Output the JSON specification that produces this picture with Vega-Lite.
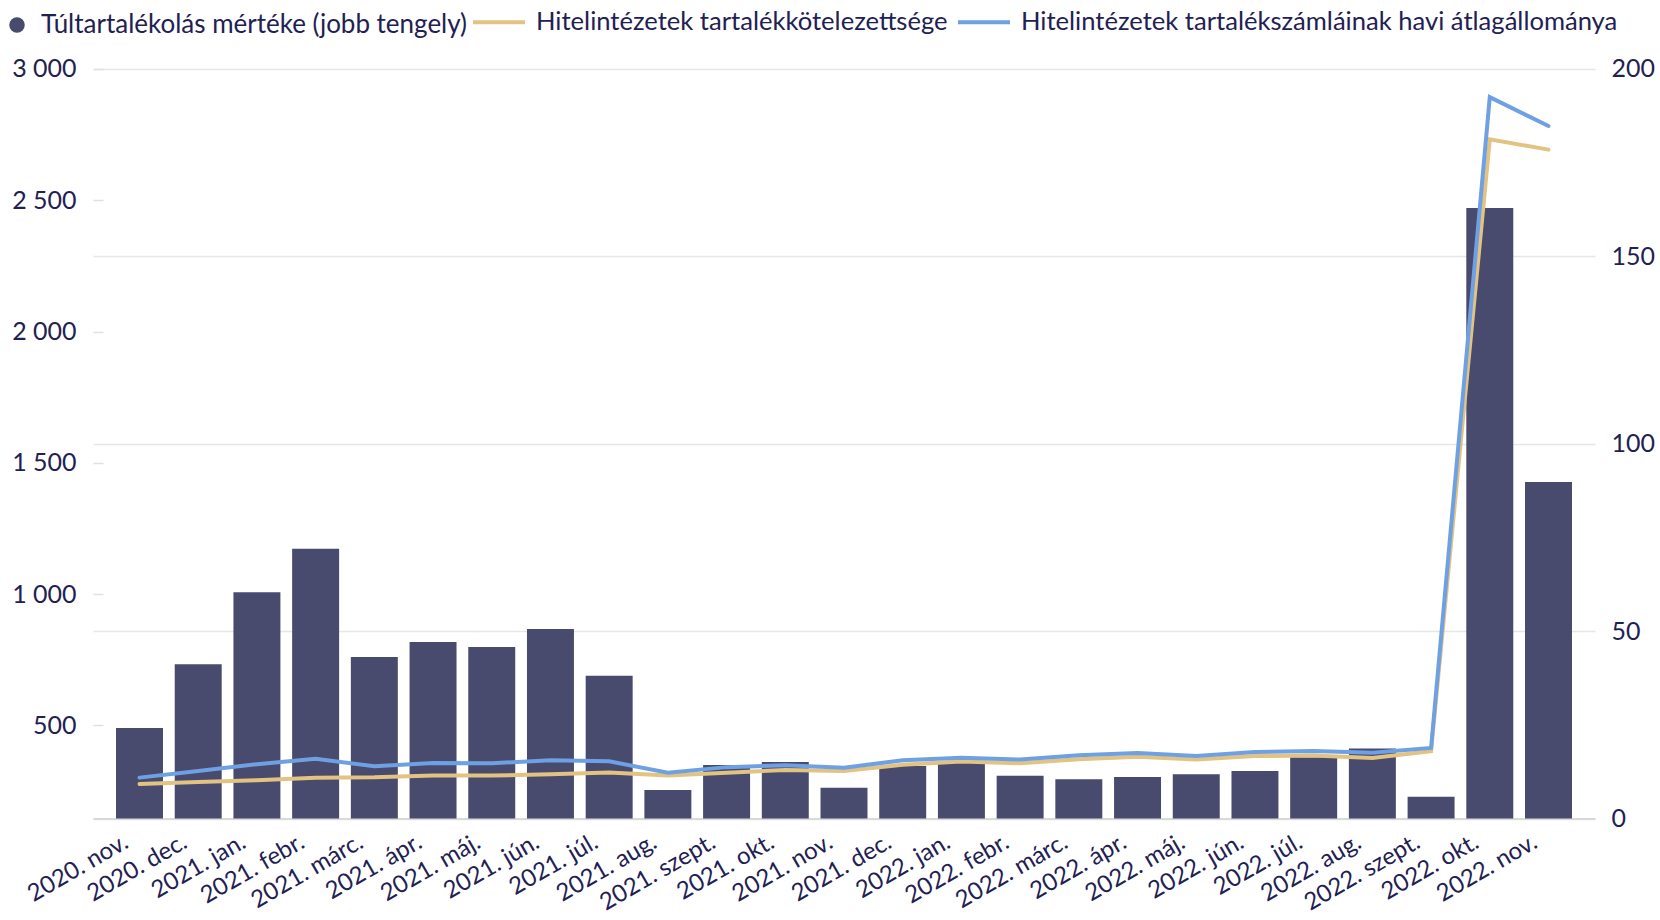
{
  "$schema": "https://vega.github.io/schema/vega-lite/v6.json",
  "width": 1502,
  "height": 749.6,
  "autosize": {"type": "none"},
  "padding": {"left": 93, "top": 69, "right": 65, "bottom": 101},
  "background": "white",
  "config": {
    "font": "Lato",
    "view": {"stroke": null},
    "axis": {"labelFont": "Lato", "labelFontSize": 25, "labelColor": "#1f2153", "title": null},
    "legend": {"labelFont": "Lato", "labelFontSize": 26, "labelColor": "#1f2153", "labelLimit": 2000, "padding": 0}
  },
  "data": {
    "values": [
      {"honap": "2020. nov.", "tult": 24.2, "kot": 277, "atl": 301},
      {"honap": "2020. dec.", "tult": 41.2, "kot": 284, "atl": 326},
      {"honap": "2021. jan.", "tult": 60.4, "kot": 291, "atl": 352},
      {"honap": "2021. febr.", "tult": 72.0, "kot": 301, "atl": 373},
      {"honap": "2021. márc.", "tult": 43.1, "kot": 302, "atl": 344},
      {"honap": "2021. ápr.", "tult": 47.1, "kot": 309, "atl": 357},
      {"honap": "2021. máj.", "tult": 45.8, "kot": 309, "atl": 356},
      {"honap": "2021. jún.", "tult": 50.6, "kot": 314, "atl": 367},
      {"honap": "2021. júl.", "tult": 38.1, "kot": 321, "atl": 363},
      {"honap": "2021. aug.", "tult": 7.6, "kot": 309, "atl": 320},
      {"honap": "2021. szept.", "tult": 14.3, "kot": 320, "atl": 341},
      {"honap": "2021. okt.", "tult": 15.1, "kot": 330, "atl": 348},
      {"honap": "2021. nov.", "tult": 8.2, "kot": 326, "atl": 339},
      {"honap": "2021. dec.", "tult": 14.0, "kot": 350, "atl": 367},
      {"honap": "2022. jan.", "tult": 14.9, "kot": 362, "atl": 377},
      {"honap": "2022. febr.", "tult": 11.4, "kot": 356, "atl": 370},
      {"honap": "2022. márc.", "tult": 10.5, "kot": 371, "atl": 386},
      {"honap": "2022. ápr.", "tult": 11.1, "kot": 381, "atl": 395},
      {"honap": "2022. máj.", "tult": 11.8, "kot": 370, "atl": 383},
      {"honap": "2022. jún.", "tult": 12.7, "kot": 383, "atl": 399},
      {"honap": "2022. júl.", "tult": 16.4, "kot": 385, "atl": 402},
      {"honap": "2022. aug.", "tult": 18.7, "kot": 376, "atl": 396},
      {"honap": "2022. szept.", "tult": 5.8, "kot": 402, "atl": 414},
      {"honap": "2022. okt.", "tult": 162.9, "kot": 2732, "atl": 2893},
      {"honap": "2022. nov.", "tult": 89.8, "kot": 2693, "atl": 2783}
    ]
  },
  "encoding": {
    "x": {
      "field": "honap",
      "type": "nominal",
      "sort": null,
      "scale": {"paddingInner": 0.2, "paddingOuter": 0.392},
      "axis": {
        "labelAngle": -30,
        "labelFontSize": 24,
        "ticks": false,
        "domainColor": "#d9d9d9",
        "domainWidth": 2,
        "labelPadding": 11,
        "labelOffset": -19,
        "title": null
      }
    }
  },
  "layer": [
    {
      "mark": {"type": "bar"},
      "encoding": {
        "y": {
          "field": "tult",
          "type": "quantitative",
          "scale": {"domain": [0, 200], "nice": false},
          "axis": {
            "orient": "right",
            "values": [0, 50, 100, 150, 200],
            "grid": true,
            "gridColor": "#e6e6e6",
            "gridWidth": 1.5,
            "ticks": false,
            "domain": false,
            "labelPadding": 16,
            "title": null
          }
        },
        "fill": {
          "datum": "Túltartalékolás mértéke (jobb tengely)",
          "type": "nominal",
          "scale": {"range": ["#484a6e"]},
          "legend": {
            "orient": "none",
            "legendX": -89,
            "legendY": -57,
            "symbolType": "circle",
            "symbolSize": 240,
            "symbolStrokeWidth": 0,
            "labelOffset": 11,
            "title": null
          }
        }
      }
    },
    {
      "layer": [
        {
          "mark": {"type": "line", "strokeWidth": 4, "strokeCap": "round"},
          "encoding": {
            "y": {
              "field": "kot",
              "type": "quantitative",
              "scale": {"domain": [145, 3000], "nice": false, "zero": false},
              "axis": {
                "orient": "left",
                "values": [500, 1000, 1500, 2000, 2500, 3000],
                "grid": false,
                "domain": false,
                "ticks": true,
                "tickSize": -10,
                "tickColor": "#e0e0e0",
                "tickWidth": 1.5,
                "labelPadding": 27,
                "labelExpr": "replace(format(datum.value, ','), ',', ' ')",
                "title": null
              }
            },
            "stroke": {
              "datum": "Hitelintézetek tartalékkötelezettsége",
              "type": "nominal",
              "scale": {
                "domain": ["Hitelintézetek tartalékkötelezettsége", "Hitelintézetek tartalékszámláinak havi átlagállománya"],
                "range": ["#e2c382", "#6ea0e4"]
              },
              "legend": {
                "orient": "none",
                "direction": "horizontal",
                "legendX": 378,
                "legendY": -75,
                "symbolType": "stroke",
                "symbolSize": 2704,
                "symbolStrokeWidth": 4,
                "labelOffset": 9,
                "labelFontSize": 25.6,
                "columnPadding": 2,
                "title": null
              }
            }
          }
        },
        {
          "mark": {"type": "line", "strokeWidth": 4, "strokeCap": "round"},
          "encoding": {
            "y": {"field": "atl", "type": "quantitative"},
            "stroke": {"datum": "Hitelintézetek tartalékszámláinak havi átlagállománya", "type": "nominal"}
          }
        }
      ]
    }
  ],
  "resolve": {"scale": {"y": "independent", "fill": "independent", "stroke": "independent"}, "axis": {"y": "independent"}}
}
